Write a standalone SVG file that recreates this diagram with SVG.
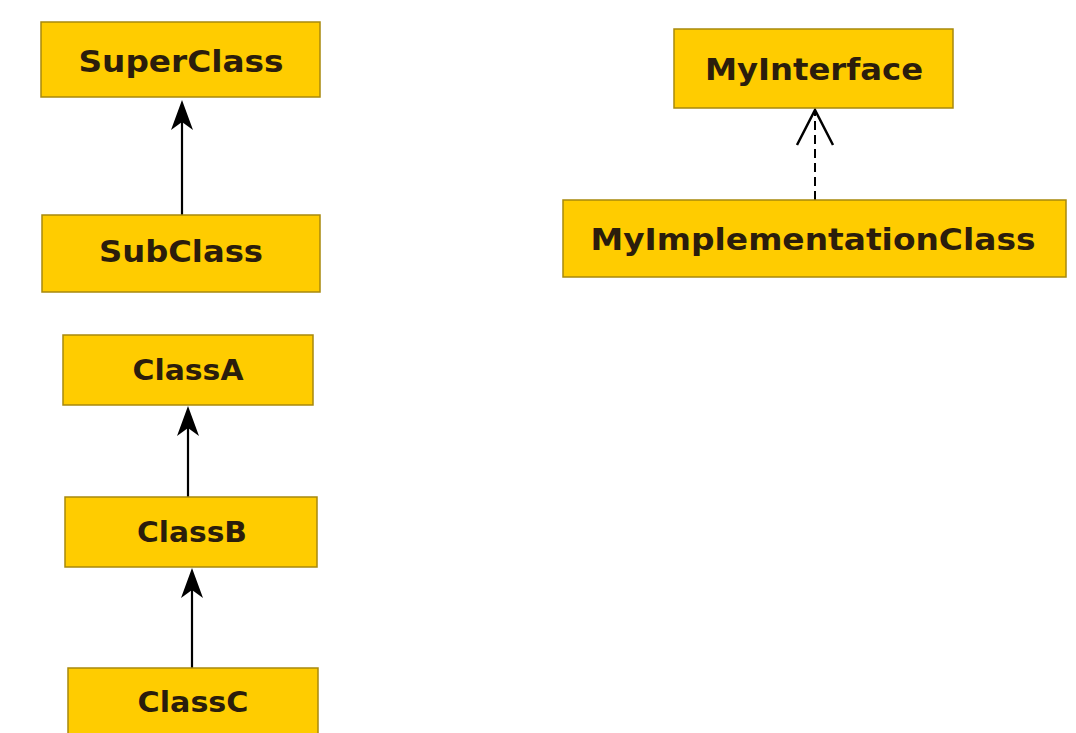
<svg xmlns="http://www.w3.org/2000/svg" width="1076" height="733" viewBox="0 0 1076 733">
<style>
.box{fill:#FFCC00;stroke:#a8890c;stroke-width:1.5}
.lbl{font-family:"DejaVu Sans",Verdana,sans-serif;font-weight:bold;fill:#2b1d0c;text-anchor:middle}
.edge{stroke:#000;stroke-width:2.2;fill:none}
.dash{stroke:#000;stroke-width:2;fill:none;stroke-dasharray:9 5}
.head{fill:#000}
.open{fill:none;stroke:#000;stroke-width:2.5}
</style>
<rect width="1076" height="733" fill="#fff"/>
<g id="connectors">
<line class="edge" x1="182" y1="215" x2="182" y2="115"/>
<line class="edge" x1="188" y1="497" x2="188" y2="420"/>
<line class="edge" x1="192" y1="668" x2="192" y2="582"/>
<line class="dash" x1="815" y1="200" x2="815" y2="112"/>
<path class="head" d="M182,100 L193,130 L182,122 L171,130 Z"/>
<path class="head" d="M188,406 L199,436 L188,428 L177,436 Z"/>
<path class="head" d="M192,568 L203,598 L192,590 L181,598 Z"/>
<path class="open" d="M797,145 L815,110 L833,145"/>
</g>
<g id="SuperClass">
<rect class="box" x="41" y="22" width="279" height="75"/>
<text class="lbl" x="181" y="72" font-size="30" textLength="205" lengthAdjust="spacingAndGlyphs">SuperClass</text>
</g>
<g id="SubClass">
<rect class="box" x="42" y="215" width="278" height="77"/>
<text class="lbl" x="181" y="262" font-size="30" textLength="164" lengthAdjust="spacingAndGlyphs">SubClass</text>
</g>
<g id="MyInterface">
<rect class="box" x="674" y="29" width="279" height="79"/>
<text class="lbl" x="814" y="80" font-size="30" textLength="218" lengthAdjust="spacingAndGlyphs">MyInterface</text>
</g>
<g id="MyImplementationClass">
<rect class="box" x="563" y="200" width="503" height="77"/>
<text class="lbl" x="813" y="250" font-size="30" textLength="445" lengthAdjust="spacingAndGlyphs">MyImplementationClass</text>
</g>
<g id="ClassA">
<rect class="box" x="63" y="335" width="250" height="70"/>
<text class="lbl" x="188" y="380" font-size="28" textLength="111" lengthAdjust="spacingAndGlyphs">ClassA</text>
</g>
<g id="ClassB">
<rect class="box" x="65" y="497" width="252" height="70"/>
<text class="lbl" x="192" y="542" font-size="28" textLength="110" lengthAdjust="spacingAndGlyphs">ClassB</text>
</g>
<g id="ClassC">
<rect class="box" x="68" y="668" width="250" height="70"/>
<text class="lbl" x="193" y="712" font-size="28" textLength="111" lengthAdjust="spacingAndGlyphs">ClassC</text>
</g>
</svg>
